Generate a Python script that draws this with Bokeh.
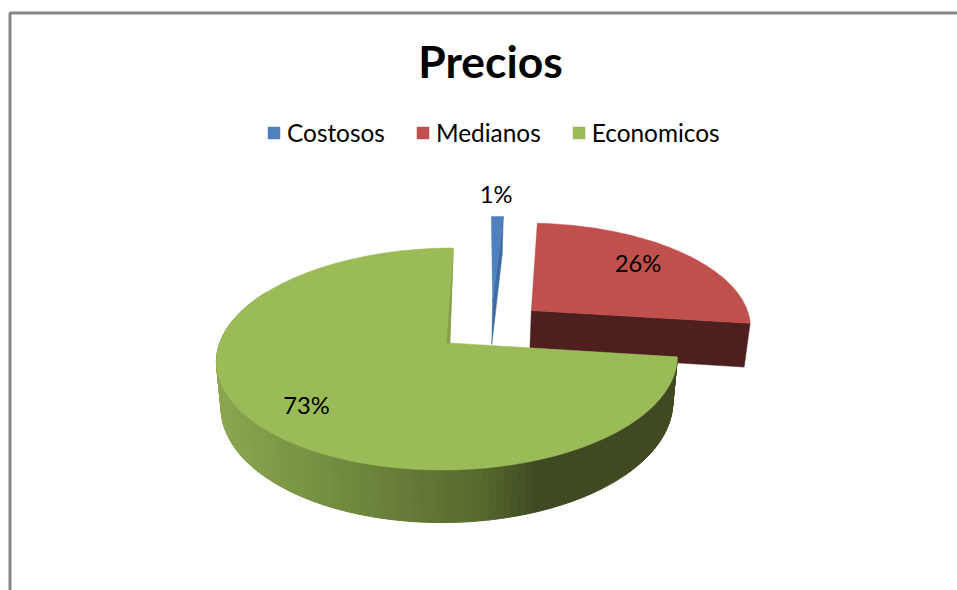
import math
from bokeh.core.properties import value
from bokeh.embed import file_html
from bokeh.models import ColumnDataSource, Legend, LegendItem, Range1d
from bokeh.plotting import figure
from bokeh.resources import INLINE

# Chart content
title_text = "Precios"
categories = ["Costosos", "Medianos", "Economicos"]
shares = [1, 26, 73]
labels = ["1%", "26%", "73%"]
top_colors = ["#4F81BD", "#C0504D", "#9BBB59"]
cut_colors = ["#3E6BA3", "#4D1F1F", "#86A04A"]
label_reach = [1.29, 0.72, 0.78]
label_nudge_x = [-5, -5, 3.5]
label_nudge_y = [-1, -5, 1]

# Projection of the tilted disc onto the page
ORIGIN_X, ORIGIN_Y = 449.5, 342.5
SCALE_X, SCALE_Y = 228.0, 108.7
PERSPECTIVE = -0.144
SKEW = -5.5
THICKNESS = 45.0
BASE_SHRINK = 0.98
EXPLODE = 0.24
RIM_SHIFT = -0.01


def project(u, v, lower=False):
    w = 1 + PERSPECTIVE * v
    x = ORIGIN_X + SCALE_X * u / w + SKEW * v
    y = ORIGIN_Y + SCALE_Y * v / w
    if lower:
        x = ORIGIN_X + (x - ORIGIN_X) * BASE_SHRINK
        y += THICKNESS / w
    return x, y


def unit(deg):
    a = math.radians(deg)
    return math.sin(a), -math.cos(a)


def rim_point(deg, offset, lower=False):
    ux, uy = unit(deg)
    return project(offset[0] + ux + RIM_SHIFT, offset[1] + uy, lower)


def arc(start, end, offset, lower=False, steps=120):
    return [rim_point(start + (end - start) * i / steps, offset, lower) for i in range(steps + 1)]


def blend(c1, c2, t):
    a = [int(c1[i:i + 2], 16) for i in (1, 3, 5)]
    b = [int(c2[i:i + 2], 16) for i in (1, 3, 5)]
    return "#%02x%02x%02x" % tuple(round(p + (q - p) * t) for p, q in zip(a, b))


SIDE_STOPS = [(215, "#8CA650"), (300, "#7A9444"), (400, "#677C38"), (480, "#566A2E"), (535, "#3F4A22"), (680, "#3F4A22")]


def side_color(x):
    for (x0, c0), (x1, c1) in zip(SIDE_STOPS, SIDE_STOPS[1:]):
        if x <= x1:
            return blend(c0, c1, max(0.0, (x - x0) / (x1 - x0)))
    return SIDE_STOPS[-1][1]


# Slice spans, clockwise from twelve o'clock
spans = []
running = 0.0
for s in shares:
    spans.append((running, running + 360.0 * s / sum(shares)))
    running += 360.0 * s / sum(shares)

mids = [unit((a + b) / 2) for a, b in spans]
pie_center = (-EXPLODE * mids[2][0], -EXPLODE * mids[2][1])
offsets = [(pie_center[0] + EXPLODE * m[0], pie_center[1] + EXPLODE * m[1]) for m in mids]

p = figure(width=957, height=590, output_backend="svg", toolbar_location=None,
           x_range=Range1d(0, 957), y_range=Range1d(590, 0), min_border=0,
           background_fill_color="white", border_fill_color="white", outline_line_color=None)
p.axis.visible = False
p.grid.visible = False

# Frame of the chart area, open on the right and at the bottom
p.line([9.5, 9.5, 957], [590, 12.5, 12.5], line_color="#868686", line_width=3)

top_renderers = []
for i in (0, 1, 2):
    start, end = spans[i]
    off = offsets[i]
    apex = project(off[0], off[1])
    apex_low = project(off[0], off[1], True)

    # cut face on the clockwise end of the slice
    if i < 2:
        rim = rim_point(end, off)
        rim_low = rim_point(end, off, True)
        face = [apex, rim, rim_low, apex_low]
        p.patch([q[0] for q in face], [q[1] for q in face], fill_color=cut_colors[i], line_color=cut_colors[i], line_width=0.5)
    else:
        # outer wall, shaded strip by strip
        xs, ys, cs = [], [], []
        upper = arc(start, 300, off)
        lower = arc(start, 300, off, True)
        for a, b, c, d in zip(upper, upper[1:], lower[1:], lower):
            xs.append([a[0], b[0], c[0], d[0]])
            ys.append([a[1], b[1], c[1], d[1]])
            cs.append(side_color((a[0] + b[0]) / 2))
        p.patches(xs="xs", ys="ys", fill_color="cs", line_color="cs", line_width=1,
                  source=ColumnDataSource(dict(xs=xs, ys=ys, cs=cs)))

    outline = [apex] + arc(start, end, off, steps=max(6, int(end - start)))
    top_renderers.append(p.patch([q[0] for q in outline], [q[1] for q in outline],
                                 fill_color=top_colors[i], line_color=top_colors[i], line_width=0.5))

    if i == 2:
        # inner wall seen along the slice's opening edge
        rim = rim_point(end, off)
        strip = [rim, (apex[0] - 3.5, apex[1]), apex]
        p.patch([q[0] for q in strip], [q[1] for q in strip], fill_color=cut_colors[i], line_color=None)

# Percentage labels along each slice's middle direction
label_x, label_y = [], []
for off, m, reach in zip(offsets, mids, label_reach):
    x, y = project(off[0] + reach * m[0], off[1] + reach * m[1])
    label_x.append(x)
    label_y.append(y)
p.text(x=label_x, y=label_y, text=labels, x_offset=label_nudge_x, y_offset=label_nudge_y,
       text_font=value("Lato"), text_font_size="17.8pt",
       text_align="center", text_baseline="middle", text_color="black")

p.text(x=[490], y=[60], text=[title_text], text_font=value("Lato"), text_font_size="33.3pt",
       text_font_style="bold", text_align="center", text_baseline="middle", text_color="black")

legend = Legend(items=[LegendItem(label=c, renderers=[r]) for c, r in zip(categories, top_renderers)],
                orientation="horizontal", location=(266, 590 - 147), padding=0, margin=0, spacing=30,
                label_standoff=6, glyph_width=15, glyph_height=15, border_line_color=None,
                background_fill_alpha=0, label_text_font="Lato", label_text_font_size="18.3pt",
                label_text_color="black")
p.add_layout(legend, "center")

open("out.html", "w").write(file_html(p, INLINE))
